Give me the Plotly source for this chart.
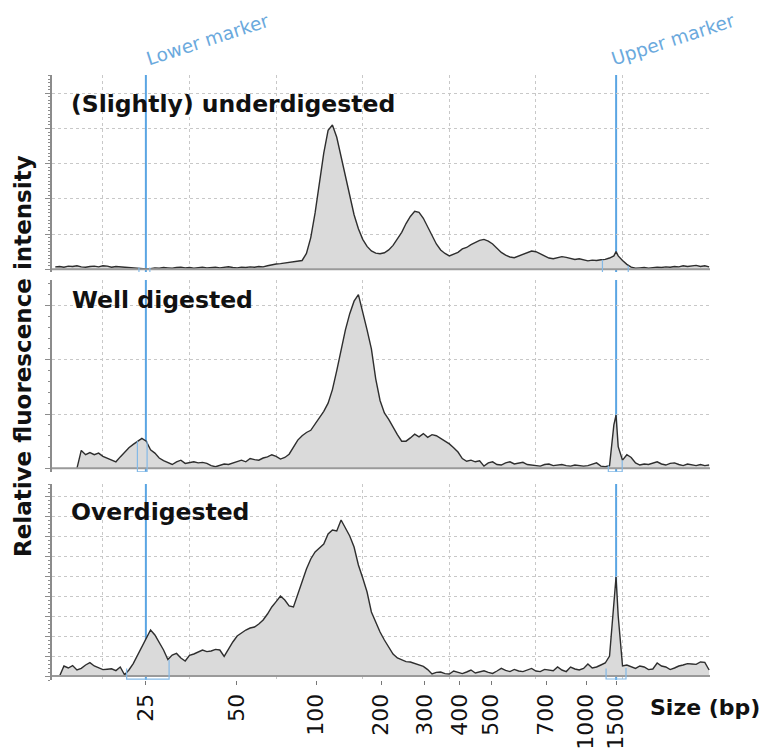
import plotly.graph_objects as go

# ---------------- data ----------------
# migration time (s) sampling grid shared by the three electropherograms
time_s = [
    17.25, 17.5, 17.75, 18.0, 18.25, 18.5, 18.75, 19.0, 19.25, 19.5, 19.75, 20.0,
    20.25, 20.5, 20.75, 21.0, 21.25, 21.5, 21.75, 22.0, 22.25, 22.5, 22.75, 23.0,
    23.25, 23.5, 23.75, 24.0, 24.25, 24.5, 24.75, 25.0, 25.25, 25.5, 25.75, 26.0,
    26.25, 26.5, 26.75, 27.0, 27.25, 27.5, 27.75, 28.0, 28.25, 28.5, 28.75, 29.0,
    29.25, 29.5, 29.75, 30.0, 30.25, 30.5, 30.75, 31.0, 31.25, 31.5, 31.75, 32.0,
    32.25, 32.5, 32.75, 33.0, 33.25, 33.5, 33.75, 34.0, 34.25, 34.5, 34.75, 35.0,
    35.25, 35.5, 35.75, 36.0, 36.25, 36.5, 36.75, 37.0, 37.25, 37.5, 37.75, 38.0,
    38.25, 38.5, 38.75, 39.0, 39.25, 39.5, 39.75, 40.0, 40.25, 40.5, 40.75, 41.0,
    41.25, 41.5, 41.75, 42.0, 42.25, 42.5, 42.75, 43.0, 43.25, 43.5, 43.75, 44.0,
    44.25, 44.5, 44.75, 45.0, 45.25, 45.5, 45.75, 46.0, 46.25, 46.5, 46.75, 47.0,
    47.25, 47.5, 47.75, 48.0, 48.25, 48.5, 48.75, 49.0, 49.25, 49.5, 49.625, 49.75, 50.0,
    50.25, 50.5, 50.75, 51.0, 51.25, 51.5, 51.75, 52.0, 52.25, 52.5, 52.75, 53.0,
    53.25, 53.5, 53.75, 54.0, 54.25, 54.5, 54.75, 55.0,
]

under_digested = [
    0.07, 0.08, 0.06, 0.09,  0.08, 0.10, 0.07, 0.06,  0.08, 0.09, 0.07, 0.10,
    0.09, 0.06, 0.08, 0.07,  0.05, 0.06, 0.04, 0.03,  0.03, 0.01, 0.02, 0.04,
    0.03, 0.05, 0.04, 0.03,  0.05, 0.06, 0.04, 0.05,  0.03, 0.05, 0.06, 0.04,
    0.05, 0.06, 0.04, 0.05,  0.07, 0.05, 0.04, 0.06,  0.05, 0.07, 0.06, 0.08,
    0.07, 0.10, 0.13, 0.15,  0.16, 0.18, 0.20, 0.20,  0.22, 0.25, 0.45, 0.90,
    1.60, 2.40, 3.30, 3.95,  4.10, 3.75, 3.20, 2.60,  2.05, 1.55, 1.15, 0.85,
    0.65, 0.52, 0.46, 0.44,  0.47, 0.55, 0.68, 0.85,  1.05, 1.30, 1.50, 1.65,
    1.62, 1.45, 1.20, 0.95,  0.72, 0.55, 0.45, 0.38,  0.42, 0.48, 0.58, 0.62,
    0.70, 0.76, 0.82, 0.85,  0.80, 0.72, 0.60, 0.48,  0.40, 0.35, 0.33, 0.38,
    0.42, 0.48, 0.52, 0.50,  0.44, 0.38, 0.32, 0.30,  0.33, 0.36, 0.34, 0.30,
    0.28, 0.30, 0.27, 0.24,  0.26, 0.25, 0.27, 0.28,  0.32, 0.38, 0.50, 0.38, 0.25,
    0.14, 0.06, 0.03, 0.04,  0.05, 0.03, 0.05, 0.06,  0.05, 0.07, 0.06, 0.08,
    0.07, 0.10, 0.08, 0.09,  0.11, 0.08, 0.10, 0.07,
]

well_digested = [
    None, None, None, None,  None, 0.00, 0.33, 0.25,  0.29, 0.25, 0.28, 0.22,
    0.19, 0.15, 0.12, 0.21,  0.30, 0.38, 0.44, 0.50,  0.55, 0.50, 0.34, 0.28,
    0.19, 0.14, 0.10, 0.07,  0.12, 0.15, 0.09, 0.10,  0.12, 0.10, 0.11, 0.09,
    0.05, 0.03, 0.06, 0.08,  0.07, 0.10, 0.13, 0.15,  0.12, 0.18, 0.16, 0.15,
    0.19, 0.21, 0.25, 0.22,  0.17, 0.20, 0.26, 0.38,  0.52, 0.60, 0.66, 0.70,
    0.82, 0.95, 1.05, 1.20,  1.45, 1.80, 2.20, 2.55,  2.85, 3.08, 3.20, 2.90,
    2.55, 2.20, 1.65, 1.25,  1.02, 0.90, 0.75, 0.62,  0.50, 0.50, 0.56, 0.63,
    0.58, 0.64, 0.57, 0.62,  0.60, 0.55, 0.50, 0.45,  0.38, 0.30, 0.18, 0.13,
    0.15, 0.12, 0.14, 0.04,  0.10, 0.12, 0.07, 0.06,  0.10, 0.12, 0.08, 0.09,
    0.11, 0.07, 0.06, 0.05,  0.04, 0.07, 0.08, 0.05,  0.06, 0.07, 0.05, 0.04,
    0.06, 0.05, 0.04, 0.05,  0.08, 0.10, 0.04, 0.03,  0.05, 0.80, 0.98, 0.40, 0.15,
    0.25, 0.20, 0.10, 0.06,  0.08, 0.07, 0.10, 0.12,  0.08, 0.06, 0.09, 0.10,
    0.07, 0.05, 0.08, 0.06,  0.05, 0.07, 0.05, 0.06,
]

over_digested = [
    None, 0.00, 0.50, 0.40,  0.52, 0.30, 0.38, 0.55,  0.67, 0.50, 0.40, 0.32,
    0.34, 0.36, 0.27, 0.45,  0.06, 0.30, 0.62, 1.05,  1.50, 1.88, 2.30, 2.05,
    1.70, 1.30, 0.82, 1.05,  1.13, 0.90, 0.75, 1.03,  1.10, 1.20, 1.30, 1.22,
    1.25, 1.33, 1.30, 0.98,  1.35, 1.70, 2.00, 2.15,  2.30, 2.40, 2.45, 2.60,
    2.80, 3.10, 3.45, 3.72,  4.00, 3.80, 3.50, 3.45,  4.10, 4.75, 5.35, 5.85,
    6.20, 6.40, 6.60, 7.10,  7.30, 7.25, 7.80, 7.40,  7.00, 6.45, 5.55, 4.90,
    4.20, 3.20, 2.70, 2.20,  1.80, 1.45, 1.10, 0.90,  0.80, 0.72, 0.70, 0.62,
    0.55, 0.48, 0.32, 0.10,  0.18, 0.20, 0.12, 0.10,  0.25, 0.18, 0.12, 0.20,
    0.30, 0.15, 0.20, 0.26,  0.18, 0.13, 0.25, 0.38,  0.28, 0.22, 0.33, 0.25,
    0.22, 0.30, 0.38, 0.25,  0.22, 0.33, 0.30, 0.26,  0.45, 0.30, 0.22, 0.45,
    0.35, 0.30, 0.38, 0.60,  0.40, 0.45, 0.55, 0.65,  1.00, 3.60, 4.95, 3.00, 0.50,
    0.55, 0.45, 0.38, 0.50,  0.45, 0.32, 0.35, 0.65,  0.50, 0.45, 0.32, 0.40,
    0.50, 0.55, 0.62, 0.60,  0.58, 0.70, 0.68, 0.30,
]

panel_titles = ["(Slightly) underdigested", "Well digested", "Overdigested"]
panel_series = [under_digested, well_digested, over_digested]

# size ladder: fragment size (bp) and its migration time (s)
size_labels = ["25", "50", "100", "200", "300", "400", "500", "700", "1000", "1500"]
size_times = [22.48, 27.71, 32.32, 36.07, 38.57, 40.59, 42.42, 45.59, 47.90, 49.63]
grid_times = [20, 25, 30, 35, 40, 45, 50, 55]

lower_marker_time = 22.48
upper_marker_time = 49.63

# marker integration windows per panel: (t_start, t_end, y_left, y_right, y_bottom)
lower_windows = [(22.08, 22.71, 0.05, 0.05, -0.10),
                 (21.99, 22.55, 0.50, 0.50, -0.063),
                 (21.37, 23.82, 0.38, 0.80, -0.16)]
upper_windows = [(48.84, 50.33, 0.27, 0.10, -0.10),
                 (49.18, 49.98, 0.05, 0.15, -0.063),
                 (49.05, 50.20, 0.38, 0.40, -0.15)]

y_ranges = [[-0.077, 5.52], [-0.068, 3.47], [-0.2, 9.6]]
y_minor = [0.1, 0.2, 0.2]

# ---------------- layout helpers ----------------
# the page body has an 8px margin, so the figure is drawn 8px in from the corner
OFF = 8
W, H = 770 - OFF, 756 - OFF
def fx(px):
    return (px - OFF) / W
def fy(py):
    return 1 - (py - OFF) / H

x_domain = [fx(52), fx(710)]
y_domains = [[fy(272), fy(75)], [fy(472), fy(280)], [fy(680), fy(484)]]

FONT = "DejaVu Sans"
BLUE = "#5aa5e3"
BLUE_TXT = "#6aa9dd"
GRID = "#c8c8c8"
AXIS = "#8c8c8c"

fig = go.Figure()
shapes = []
layout = {}

for i in range(3):
    n = "" if i == 0 else str(i + 1)
    xa, ya = "x" + n, "y" + n
    fig.add_trace(go.Scatter(
        x=time_s, y=panel_series[i], xaxis=xa, yaxis=ya, mode="lines",
        line=dict(color="#2e2e2e", width=1.4), fill="tozeroy",
        fillcolor="#dadada", connectgaps=False, hoverinfo="skip",
    ))
    bottom = (i == 2)
    layout["xaxis" + n] = dict(
        domain=x_domain, anchor=ya, range=[17.06, 55.05],
        showgrid=False, zeroline=False, showline=False,
        tickmode="array", tickvals=size_times,
        ticktext=size_labels if bottom else [""] * len(size_labels),
        showticklabels=bottom, ticks="outside" if bottom else "",
        ticklen=4, tickwidth=1, tickcolor="#777777", tickangle=-90,
        tickfont=dict(family=FONT, size=22, color="#111111"),
        minor=dict(tickmode="array", tickvals=grid_times, showgrid=True,
                   gridcolor=GRID, griddash="dot", gridwidth=1, ticks=""),
        fixedrange=True,
    )
    layout["yaxis" + n] = dict(
        domain=y_domains[i], anchor=xa, range=y_ranges[i],
        showticklabels=False, ticks="outside", ticklen=5, tickwidth=1,
        tickcolor=AXIS, showline=True, linecolor=AXIS, linewidth=1.5,
        tickmode="linear", tick0=0, dtick=1,
        showgrid=True, gridcolor=GRID, griddash="dot", gridwidth=1,
        zeroline=False,
        minor=dict(dtick=y_minor[i], ticks="outside", ticklen=2.5,
                   tickcolor=AXIS, showgrid=False),
        fixedrange=True,
    )
    # marker lines (drawn beneath the filled traces)
    for t in (lower_marker_time, upper_marker_time):
        shapes.append(dict(type="line", xref=xa, yref="paper",
                           x0=t, x1=t, y0=y_domains[i][0], y1=y_domains[i][1],
                           layer="below", line=dict(color=BLUE, width=2)))
    # baseline
    shapes.append(dict(type="line", xref="paper", yref=ya,
                       x0=x_domain[0], x1=x_domain[1], y0=0, y1=0, layer="above",
                       line=dict(color="#9a9a9a", width=2)))
    # marker integration windows
    for (t0, t1, yl, yr, yb) in (lower_windows[i], upper_windows[i]):
        shapes.append(dict(type="path", xref=xa, yref=ya, layer="above",
                           path=f"M {t0},{yl} L {t0},{yb} L {t1},{yb} L {t1},{yr}",
                           line=dict(color="#84b9e6", width=1.2)))

annotations = []
title_pos = [(69, 104), (70, 300), (69, 512)]
for (px, py), txt in zip(title_pos, panel_titles):
    annotations.append(dict(text=txt, xref="paper", yref="paper", x=fx(px), y=fy(py),
                            xanchor="left", yanchor="middle", showarrow=False,
                            font=dict(family=FONT, size=23.5, color="#111111", weight="bold")))

annotations.append(dict(text="Relative fluorescence intensity", xref="paper", yref="paper",
                        x=fx(23), y=fy(356), xanchor="center", yanchor="middle",
                        textangle=-90, showarrow=False,
                        font=dict(family=FONT, size=23, color="#111111", weight="bold")))
annotations.append(dict(text="Size (bp)", xref="paper", yref="paper",
                        x=fx(648), y=fy(707), xanchor="left", yanchor="middle",
                        showarrow=False,
                        font=dict(family=FONT, size=22, color="#111111", weight="bold")))
annotations.append(dict(text="Lower marker", xref="paper", yref="paper",
                        x=fx(208), y=fy(40), xanchor="center", yanchor="middle",
                        textangle=-18, showarrow=False,
                        font=dict(family=FONT, size=18.5, color=BLUE_TXT)))
annotations.append(dict(text="Upper marker", xref="paper", yref="paper",
                        x=fx(673), y=fy(40), xanchor="center", yanchor="middle",
                        textangle=-18, showarrow=False,
                        font=dict(family=FONT, size=18.5, color=BLUE_TXT)))

fig.update_layout(
    width=W, height=H, autosize=False,
    margin=dict(l=0, r=0, t=0, b=0),
    plot_bgcolor="white", paper_bgcolor="white",
    showlegend=False, shapes=shapes, annotations=annotations,
    **layout,
)

fig.write_html("out.html")
